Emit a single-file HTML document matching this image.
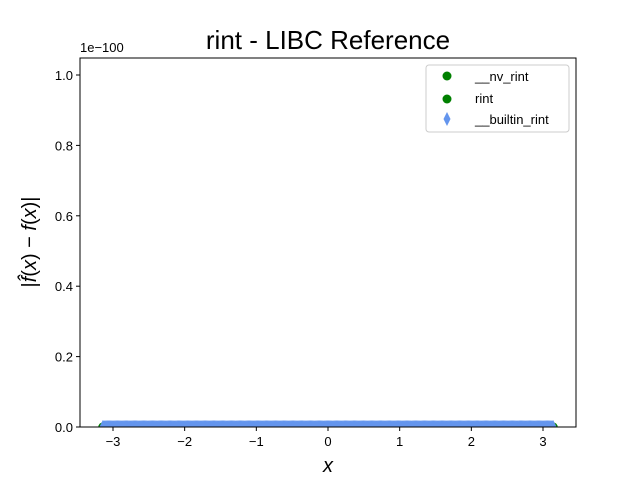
<!DOCTYPE html>
<html><head><meta charset="utf-8"><style>
body{margin:0;background:#fff;}
svg{font-family:"Liberation Sans","DejaVu Sans",sans-serif;}
</style></head><body>
<svg id="c" width="640" height="480" viewBox="0 0 640 480" xmlns="http://www.w3.org/2000/svg">
<defs><clipPath id="clip"><rect x="80" y="58" width="496" height="369"/></clipPath></defs>
<rect width="640" height="480" fill="#fff"/>
<text x="328" y="49" font-size="26" text-anchor="middle">rint - LIBC Reference</text>
<g id="marks" clip-path="url(#clip)"></g>
<rect x="80" y="58" width="496" height="369" fill="none" stroke="#000" stroke-width="1"/>
<g id="xt"></g>
<g id="yt"></g>
<text x="80" y="52" font-size="13">1e−100</text>
<text x="328" y="472" font-size="20" font-style="italic" text-anchor="middle">x</text>
<text transform="translate(36,242) rotate(-90)" font-size="20" text-anchor="middle">|<tspan font-style="italic">f̂</tspan>(<tspan font-style="italic">x</tspan>) − <tspan font-style="italic">f</tspan>(<tspan font-style="italic">x</tspan>)|</text>
<g>
<rect x="426" y="65" width="143" height="67" rx="3" fill="#fff" stroke="#ccc"/>
<circle cx="447" cy="76" r="4.5" fill="#008000"/>
<text x="475" y="81" font-size="13">__nv_rint</text>
<circle cx="447" cy="99" r="4.5" fill="#008000"/>
<text x="475" y="103" font-size="13">rint</text>
<path d="M447,112 L450.5,119 L447,126 L443.5,119 Z" fill="#6495ED"/>
<text x="475" y="124" font-size="13">__builtin_rint</text>
</g>
</svg>
<script>
const xTicks=[-3,-2,-1,0,1,2,3];
const xTickLabels=["−3","−2","−1","0","1","2","3"];
const yTicks=[0,0.2,0.4,0.6,0.8,1.0];
const yTickLabels=["0.0","0.2","0.4","0.6","0.8","1.0"];
const N=400;
const xMin=-3.14159, xMax=3.14159;
const nvErr=new Array(N).fill(0);
const rintErr=new Array(N).fill(0);
const builtinErr=new Array(N).fill(0);
const xs=Array.from({length:N},(_, i)=>xMin+(xMax-xMin)*i/(N-1));
const X=v=>328+v*71.67;
const Y=v=>427-v*352;
const ns="http://www.w3.org/2000/svg";
const m=document.getElementById('marks');
function dot(x,y,c,name){const e=document.createElementNS(ns,'circle');e.setAttribute('cx',X(x));e.setAttribute('cy',Y(y));e.setAttribute('r',4.5);e.setAttribute('fill',c);


m.appendChild(e);}
xs.forEach((x,i)=>dot(x,nvErr[i],'#008000','nv-rint-point'));
xs.forEach((x,i)=>dot(x,rintErr[i],'#008000','rint-point'));
xs.forEach((x,i)=>{const cx=X(x),cy=Y(builtinErr[i]);const e=document.createElementNS(ns,'path');
e.setAttribute('d',`M${cx},${cy-7} L${cx+3.5},${cy} L${cx},${cy+7} L${cx-3.5},${cy} Z`);e.setAttribute('fill','#6495ED');


m.appendChild(e);});
const xt=document.getElementById('xt');
xTicks.forEach((v,i)=>{const g=document.createElementNS(ns,'g');
g.innerHTML=`<line x1="${X(v)}" x2="${X(v)}" y1="427" y2="431" stroke="#000"/><text x="${X(v)}" y="446" font-size="13" text-anchor="middle">${xTickLabels[i]}</text>`;


xt.appendChild(g);});
const yt=document.getElementById('yt');
yTicks.forEach((v,i)=>{const g=document.createElementNS(ns,'g');
g.innerHTML=`<line x1="76" x2="80" y1="${Y(v)}" y2="${Y(v)}" stroke="#000"/><text x="73" y="${Y(v)+5}" font-size="13" text-anchor="end">${yTickLabels[i]}</text>`;


yt.appendChild(g);});
</script>
</body></html>
